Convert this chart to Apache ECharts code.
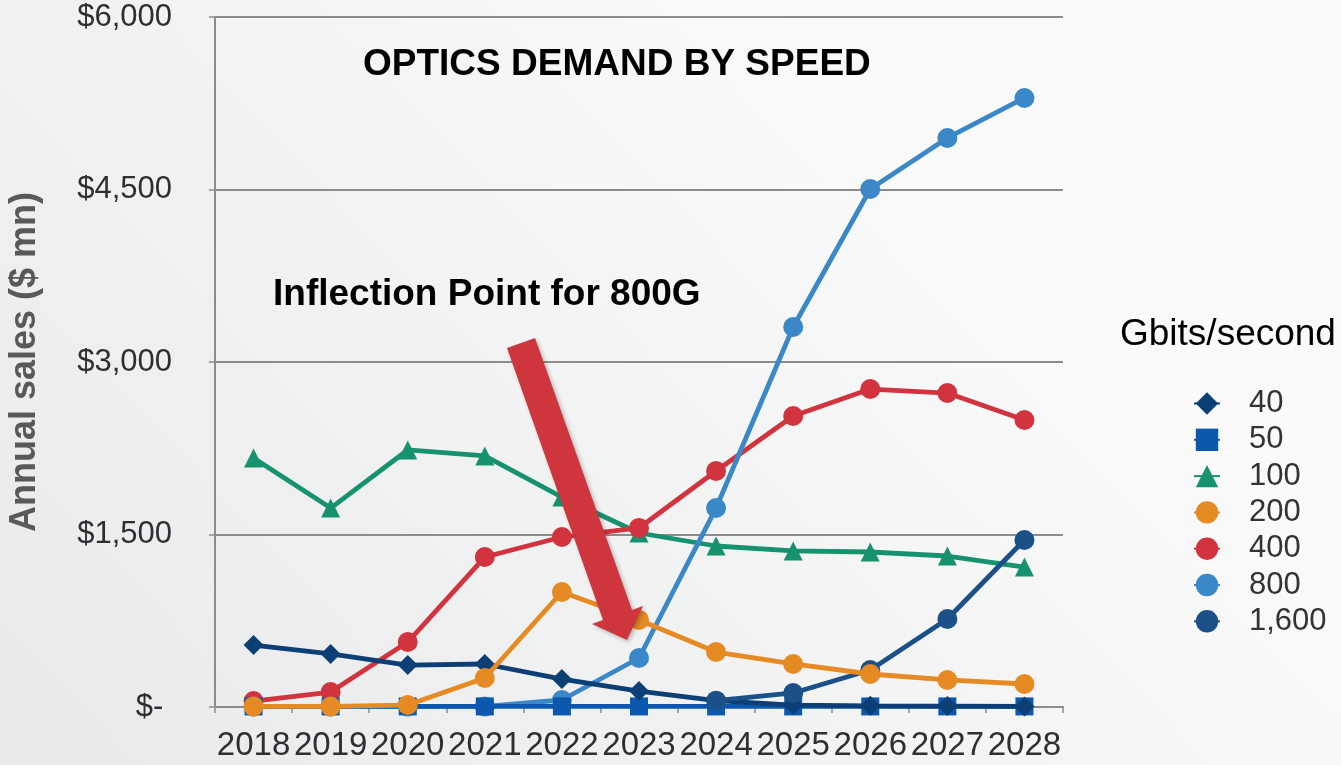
<!DOCTYPE html>
<html><head><meta charset="utf-8">
<script src="https://cdn.jsdelivr.net/npm/echarts@6/dist/echarts.min.js"></script>
<style>html,body{margin:0;padding:0;}#c{width:1341px;height:765px;}</style>
</head><body><div id="c"></div>
<script>
const years = ['2018','2019','2020','2021','2022','2023','2024','2025','2026','2027','2028'];
const yTicks = [0, 1500, 3000, 4500, 6000];
const s40   = [539, 461, 365, 374, 243, 139, 55, 17, 10, 8, 5];
const s50   = [5, 5, 5, 5, 5, 5, 5, 5, 5, 5, 5];
const s100  = [2165, 1730, 2235, 2183, 1826, 1513, 1400, 1357, 1348, 1313, 1217];
const s200  = [5, 5, 17, 252, 1000, 757, 478, 374, 287, 235, 200];
const s400  = [52, 130, 565, 1304, 1478, 1557, 2052, 2530, 2765, 2730, 2496];
const s800  = [5, 5, 5, 5, 61, 426, 1730, 3304, 4504, 4948, 5296];
const s1600 = [null, null, null, null, null, null, 55, 122, 322, 765, 1452];
const seriesNames = ['40','50','100','200','400','800','1,600'];
const seriesColors = ['#0C3F76','#0B58AE','#17926F','#E68A23','#D1343E','#3A88C7','#1B5088'];
const seriesSymbols = ['diamond','rect','triangle','circle','circle','circle','circle'];
const seriesSizes = [20, 18, 19, 20, 20, 20, 20];
const seriesData = [s40, s50, s100, s200, s400, s800, s1600];
const zOrder = [4, 3, 2, 5, 2, 2, 4];

const FONT = '"Liberation Sans", Arial, sans-serif';
const chart = echarts.init(document.getElementById('c'));

const series = seriesNames.map((n, i) => ({
  name: n, type: 'line', data: seriesData[i],
  symbol: seriesSymbols[i], symbolSize: seriesSizes[i],
  showAllSymbol: true, z: zOrder[i],
  lineStyle: {color: seriesColors[i], width: 4.8},
  itemStyle: {color: seriesColors[i]},
  emphasis: {disabled: true}, animation: false
}));

chart.setOption({
  animation: false,
  backgroundColor: new echarts.graphic.LinearGradient(0, 1, 0.6, 0, [
    {offset: 0, color: '#E8E9EA'}, {offset: 1, color: '#FAFAFA'}
  ]),
  textStyle: {fontFamily: FONT},
  grid: {left: 215, right: 278, top: 17, bottom: 58, containLabel: false, outerBoundsMode: 'none'},
  xAxis: {
    type: 'category', data: years, boundaryGap: true,
    axisLine: {lineStyle: {color: '#8C8C8C', width: 2}},
    axisTick: {show: true, length: 6, lineStyle: {color: '#8C8C8C', width: 1.5}},
    axisLabel: {color: '#2E2E33', fontSize: 33, margin: 22, fontFamily: FONT, interval: 0, hideOverlap: false}
  },
  yAxis: {
    type: 'value', min: 0, max: 6000, interval: 1500,
    name: 'Annual sales ($ mn)', nameLocation: 'middle', nameGap: 172, nameRotate: 90,
    nameTextStyle: {color: '#595959', fontSize: 36, fontWeight: 'bold', fontFamily: FONT},
    axisLine: {show: true, lineStyle: {color: '#8C8C8C', width: 2}},
    axisTick: {show: true, length: 6, lineStyle: {color: '#8C8C8C', width: 1.5}},
    splitLine: {lineStyle: {color: '#8C8C8C', width: 2}},
    axisLabel: {color: '#2E2E33', fontSize: 31, margin: 43, fontFamily: FONT,
      formatter: v => v === 0 ? '$- ' : '$' + v.toLocaleString('en-US')}
  },
  legend: {
    orient: 'vertical', left: 1188, top: 383, itemGap: 5.3,
    itemWidth: 26, itemHeight: 28,
    data: seriesNames,
    textStyle: {color: '#333', fontSize: 31, lineHeight: 30, fontFamily: FONT, padding: [0, 0, 0, 24]},
    selectedMode: false
  },
  graphic: [
    {type: 'text', x: 363, y: 65, style: {text: 'OPTICS DEMAND BY SPEED', fill: '#000', font: 'bold 37px ' + FONT, verticalAlign: 'middle'}},
    {type: 'text', x: 273, y: 295, style: {text: 'Inflection Point for 800G', fill: '#000', font: 'bold 37px ' + FONT, verticalAlign: 'middle'}},
    {type: 'text', x: 1120, y: 335, style: {text: 'Gbits/second', fill: '#000', font: '37px ' + FONT, verticalAlign: 'middle'}},
    {type: 'polygon', z: 100,
      shape: {points: [[507,348],[603,620],[592,624],[627,640],[643,606],[632,610],[535,338]]},
      style: {fill: '#CF353D', shadowBlur: 4, shadowColor: 'rgba(0,0,0,0.25)', shadowOffsetX: 2, shadowOffsetY: 2}}
  ],
  series: series
});
</script></body></html>
